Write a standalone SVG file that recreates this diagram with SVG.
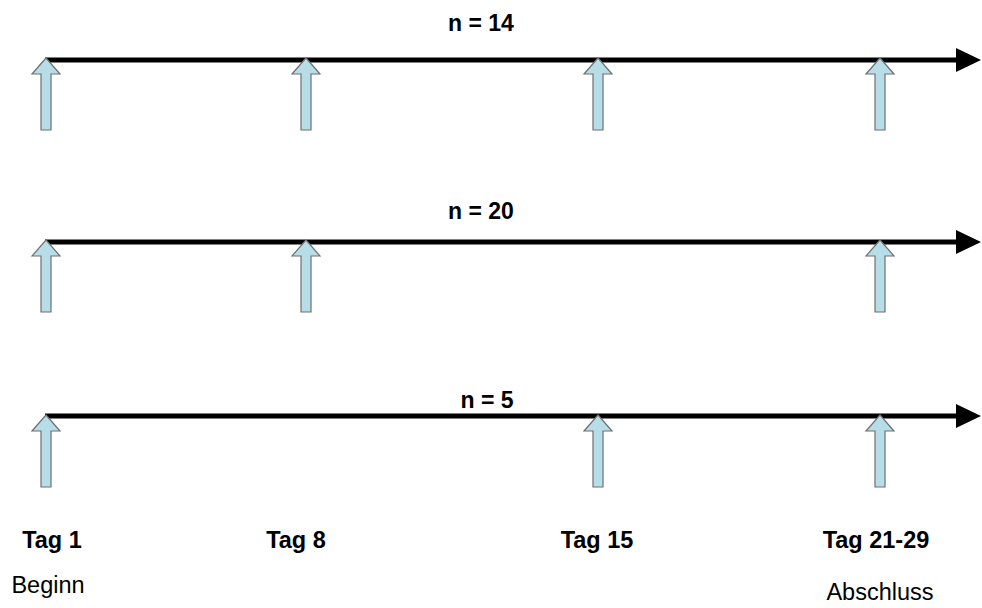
<svg xmlns="http://www.w3.org/2000/svg" width="982" height="608" viewBox="0 0 982 608">
  <defs>
    <style>
      .axis { stroke: #000; stroke-width: 5; fill: none; }
      .head { fill: #000; }
      .up { fill: #B7DEE8; stroke: #6F6F6F; stroke-width: 1.2; stroke-linejoin: miter; }
      .n { font-family: "Liberation Sans", Arial, sans-serif; font-weight: bold; font-size: 23px; fill: #000; text-anchor: middle; }
      .tag { font-family: "Liberation Sans", Arial, sans-serif; font-weight: bold; font-size: 23.5px; fill: #000; text-anchor: middle; }
      .sub { font-family: "Liberation Sans", Arial, sans-serif; font-size: 23.5px; fill: #000; text-anchor: middle; }
    </style>
    <!-- block up-arrow, tip at origin -->
    <path id="uparrow" class="up" d="M0,0 L14,16 L5,16 L5,72 L-5,72 L-5,16 L-14,16 Z"/>
  </defs>

  <!-- timelines -->
  <g id="connectors">
    <line class="axis" x1="45" y1="60" x2="958" y2="60"/>
    <polygon class="head" points="956,48 981,60 956,72"/>
    <line class="axis" x1="45" y1="242" x2="958" y2="242"/>
    <polygon class="head" points="956,230 981,242 956,254"/>
    <line class="axis" x1="45" y1="416" x2="958" y2="416"/>
    <polygon class="head" points="956,404 981,416 956,428"/>
  </g>

  <!-- group n = 14 -->
  <g id="row1">
    <text class="n" x="481" y="31">n = 14</text>
    <use href="#uparrow" x="46" y="58"/>
    <use href="#uparrow" x="306" y="58"/>
    <use href="#uparrow" x="598" y="58"/>
    <use href="#uparrow" x="880" y="58"/>
  </g>

  <!-- group n = 20 -->
  <g id="row2">
    <text class="n" x="481" y="219">n = 20</text>
    <use href="#uparrow" x="46" y="240"/>
    <use href="#uparrow" x="306" y="240"/>
    <use href="#uparrow" x="880" y="240"/>
  </g>

  <!-- group n = 5 -->
  <g id="row3">
    <text class="n" x="487" y="408">n = 5</text>
    <use href="#uparrow" x="46" y="415"/>
    <use href="#uparrow" x="598" y="415"/>
    <use href="#uparrow" x="880" y="415"/>
  </g>

  <!-- day labels -->
  <g id="labels">
    <text class="tag" x="52" y="548">Tag 1</text>
    <text class="sub" x="48" y="593">Beginn</text>
    <text class="tag" x="296" y="548">Tag 8</text>
    <text class="tag" x="597" y="548">Tag 15</text>
    <text class="tag" x="876" y="548">Tag 21-29</text>
    <text class="sub" x="880" y="600">Abschluss</text>
  </g>
</svg>
